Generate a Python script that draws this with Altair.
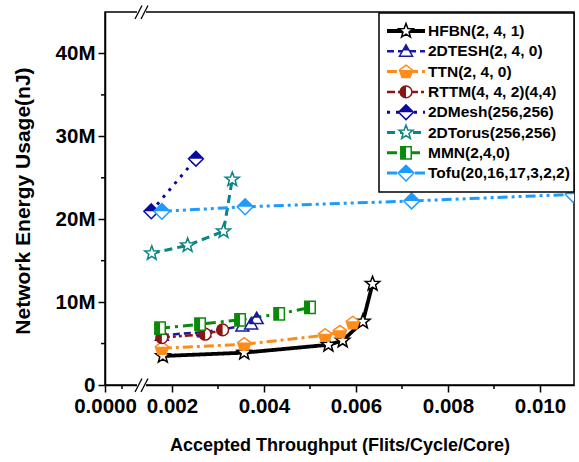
import math
import altair as alt
import pandas as pd

FONT = "Liberation Sans"

# ---- data ---------------------------------------------------------------
series = [
    "HFBN(2, 4, 1)", "2DTESH(2, 4, 0)", "TTN(2, 4, 0)", "RTTM(4, 4, 2)(4,4)",
    "2DMesh(256,256)", "2DTorus(256,256)", "MMN(2,4,0)", "Tofu(20,16,17,3,2,2)",
]

hfbn_x = [0.00180, 0.00357, 0.00540, 0.00571, 0.00615, 0.00636]
hfbn_y = [3.50, 3.90, 4.85, 5.36, 7.65, 12.2]

tesh_x = [0.00178, 0.00270, 0.00353, 0.00372, 0.00384]
tesh_y = [6.00, 6.40, 7.10, 7.35, 8.00]

ttn_x = [0.00178, 0.00357, 0.00533, 0.00565, 0.00593]
ttn_y = [4.43, 4.92, 6.00, 6.40, 7.50]

rttm_x = [0.00178, 0.00272, 0.00310]
rttm_y = [5.72, 6.13, 6.65]

mesh_x = [0.00155, 0.00252]
mesh_y = [20.95, 27.3]

torus_x = [0.00156, 0.00234, 0.00312, 0.00331]
torus_y = [15.9, 16.85, 18.55, 24.8]

mmn_x = [0.00174, 0.00261, 0.00348, 0.00433, 0.00500]
mmn_y = [6.85, 7.34, 7.86, 8.58, 9.35]

tofu_x = [0.00178, 0.00359, 0.00721, 0.01072]
tofu_y = [20.95, 21.5, 22.2, 23.0]

xs = [hfbn_x, tesh_x, ttn_x, rttm_x, mesh_x, torus_x, mmn_x, tofu_x]
ys = [hfbn_y, tesh_y, ttn_y, rttm_y, mesh_y, torus_y, mmn_y, tofu_y]

x_ticks = [0.002, 0.004, 0.006, 0.008, 0.010]
x_minor = [0.000913, 0.003, 0.005, 0.007, 0.009]
y_ticks = [0, 10, 20, 30, 40]
y_minor = [5, 15, 25, 35]

# ---- styles -------------------------------------------------------------
def star_path(inner=0.42):
    pts = []
    for k in range(10):
        r = 1.0 if k % 2 == 0 else inner
        a = -math.pi / 2 + k * math.pi / 5
        pts.append(f"{r * math.cos(a):.3f},{r * math.sin(a):.3f}")
    return "M" + "L".join(pts) + "Z"

STAR = star_path()
TRI = "M0,-1L1,0.75L-1,0.75Z"
TRI_TOP = "M0,-1L0.5,-0.125L-0.5,-0.125Z"
PENT = "M0,-1L1,-0.25L0.62,0.9L-0.62,0.9L-1,-0.25Z"
PENT_LOW = "M-1,-0.25L1,-0.25L0.62,0.9L-0.62,0.9Z"
CIRC = "M1,0A1,1,0,1,1,-1,0A1,1,0,1,1,1,0Z"
CIRC_LEFT = "M0,-1A1,1,0,0,0,0,1Z"
DIAM = "M0,-1L1,0L0,1L-1,0Z"
DIAM_TOP = "M0,-1L1,0L-1,0Z"
SQ = "M-0.85,-1L0.85,-1L0.85,1L-0.85,1Z"
SQ_LEFT = "M-0.85,-1L0,-1L0,1L-0.85,1Z"

colors = ["#000000", "#1a1aa0", "#ff8c1a", "#8b1515",
          "#0a0aa0", "#0a8585", "#0a8a0a", "#1e9bff"]
dashes = [[1, 0], [7, 4], [10, 4, 3, 4], [8, 3, 3, 3, 3, 3],
          [3, 6], [8, 5], [10, 5, 3, 5], [10, 4, 3, 4, 3, 4]]
widths = [3.8, 2.5, 3, 2.5, 3, 3, 3, 3]
full_shapes = [STAR, TRI, PENT, CIRC, DIAM, STAR, SQ, DIAM]
half_shapes = [None, TRI_TOP, PENT_LOW, CIRC_LEFT, DIAM_TOP, None, SQ_LEFT, DIAM_TOP]
sizes = [230, 170, 170, 140, 220, 220, 150, 250]

rows = []
for i, name in enumerate(series):
    for xv, yv in zip(xs[i], ys[i]):
        rows.append({"series": name, "x": xv, "y": yv, "sw": widths[i],
                     "full": full_shapes[i], "half": half_shapes[i], "size": sizes[i]})
df = pd.DataFrame(rows)

X_MIN, X_MAX = 0.000543, 0.01074
Y_MIN, Y_MAX = 0, 45
W, H = 469, 373

color_scale = alt.Scale(domain=series, range=colors)
dash_scale = alt.Scale(domain=series, range=dashes)

x_enc = alt.X(
    "x:Q",
    scale=alt.Scale(domain=[X_MIN, X_MAX], nice=False, zero=False),
    axis=alt.Axis(
        values=[X_MIN] + x_ticks,
        labelExpr="datum.value < 0.001 ? '0.0000' : format(datum.value, '.3f')",
        title="Accepted Throughput (Flits/Cycle/Core)",
        titleX=W / 2, titleY=65, titleBaseline="alphabetic", titleAlign="center",
        titleFontSize=18, labelPadding=4, labelFlush=False, labelOverlap=False,
    ),
)
y_enc = alt.Y(
    "y:Q",
    scale=alt.Scale(domain=[Y_MIN, Y_MAX], nice=False, zero=True),
    axis=alt.Axis(
        values=y_ticks,
        labelExpr="datum.value == 0 ? '0' : datum.value + 'M'",
        title="Network Energy Usage(nJ)",
        titleX=-76, titleY=H / 2 + 2, titleAngle=-90, titleBaseline="alphabetic",
        titleAlign="center", titleFontSize=21, labelPadding=3, labelFlush=False,
    ),
)

# one line per series, then each series' markers (outline + half fill) in order
series_layers = []
for i, name in enumerate(series):
    sub = df[df["series"] == name]
    series_layers.append(alt.Chart(sub).mark_line(clip=True, strokeCap="butt").encode(
        x=x_enc, y=y_enc,
        color=alt.Color("series:N", scale=color_scale, legend=None),
        strokeDash=alt.StrokeDash("series:N", scale=dash_scale, legend=None),
        strokeWidth=alt.StrokeWidth("sw:Q", scale=None),
        order="x:Q",
    ))
for i, name in enumerate(series):
    sub = df[df["series"] == name]
    c = alt.Chart(sub)
    series_layers.append(c.mark_point(clip=True, opacity=1, strokeWidth=1.5).encode(
        x=x_enc, y=y_enc,
        shape=alt.Shape("full:N", scale=None),
        size=alt.Size("size:Q", scale=None),
        fill=alt.value("white"),
        stroke=alt.Stroke("series:N", scale=color_scale, legend=None),
    ))
    if half_shapes[i] is not None:
        series_layers.append(c.mark_point(clip=True, filled=True, opacity=1, strokeWidth=0).encode(
            x=x_enc, y=y_enc,
            shape=alt.Shape("half:N", scale=None),
            size=alt.Size("size:Q", scale=None),
            color=alt.Color("series:N", scale=color_scale, legend=None),
        ))

# minor ticks
minor_x = alt.Chart(pd.DataFrame({"x": x_minor})).mark_rule(
    color="black", strokeWidth=1.5
).encode(x=x_enc, y=alt.value(H), y2=alt.value(H + 4))
minor_y = alt.Chart(pd.DataFrame({"y": y_minor})).mark_rule(
    color="black", strokeWidth=1.5
).encode(y=y_enc, x=alt.value(-4), x2=alt.value(0))

# axis break marks on top and bottom frame lines
def break_marks(y0):
    one = pd.DataFrame({"k": [0]})
    gap = alt.Chart(one).mark_rect(color="white").encode(
        x=alt.value(32), x2=alt.value(41), y=alt.value(y0 - 2), y2=alt.value(y0 + 2)
    )
    s1 = alt.Chart(one).mark_rule(color="black", strokeWidth=1.3).encode(
        x=alt.value(30), x2=alt.value(37), y=alt.value(y0 + 7), y2=alt.value(y0 - 6.5)
    )
    s2 = alt.Chart(one).mark_rule(color="black", strokeWidth=1.3).encode(
        x=alt.value(36), x2=alt.value(43), y=alt.value(y0 + 7), y2=alt.value(y0 - 6.5)
    )
    return [gap, s1, s2]

# legend box
leg = df.drop_duplicates("series").reset_index(drop=True)
leg["ly"] = [19 + 20.3 * i for i in range(len(leg))]
leg_half = leg[leg["half"].notna()]

leg_box = alt.Chart(pd.DataFrame({"k": [0]})).mark_rect(
    fill="white", stroke="black", strokeWidth=1.5
).encode(x=alt.value(274), x2=alt.value(W), y=alt.value(1), y2=alt.value(180))

ly_enc = alt.Y("ly:Q", scale=None, axis=None)

leg_lines = alt.Chart(leg).mark_rule(strokeCap="butt").encode(
    y=ly_enc, x=alt.value(282), x2=alt.value(320),
    color=alt.Color("series:N", scale=color_scale, legend=None),
    strokeDash=alt.StrokeDash("series:N", scale=dash_scale, legend=None),
    strokeWidth=alt.StrokeWidth("sw:Q", scale=None),
)
leg_outline = alt.Chart(leg).mark_point(opacity=1, strokeWidth=1.5).encode(
    y=ly_enc, x=alt.value(301),
    shape=alt.Shape("full:N", scale=None),
    size=alt.Size("size:Q", scale=None),
    fill=alt.value("white"),
    stroke=alt.Stroke("series:N", scale=color_scale, legend=None),
)
leg_fill = alt.Chart(leg_half).mark_point(filled=True, opacity=1, strokeWidth=0).encode(
    y=ly_enc, x=alt.value(301),
    shape=alt.Shape("half:N", scale=None),
    size=alt.Size("size:Q", scale=None),
    color=alt.Color("series:N", scale=color_scale, legend=None),
)
leg_text = alt.Chart(leg).mark_text(
    align="left", baseline="middle", font=FONT, fontWeight="bold", fontSize=15.5, color="black"
).encode(y=ly_enc, x=alt.value(323), text="series:N")

chart = alt.layer(
    minor_x, minor_y, *series_layers,
    *break_marks(0), *break_marks(H),
    leg_box, leg_lines, leg_outline, leg_fill, leg_text,
).properties(
    width=W, height=H,
    autosize=alt.AutoSizeParams(type="none"),
    padding={"left": 105, "top": 12, "right": 5, "bottom": 77},
    background="white",
).configure_view(
    stroke="black", strokeWidth=1.5
).configure_axis(
    labelFont=FONT, labelFontWeight="bold", labelFontSize=20.5, labelColor="black",
    titleFont=FONT, titleFontWeight="bold", titleColor="black",
    domainColor="black", domainWidth=1.5, tickColor="black", tickWidth=1.5,
    tickSize=7, grid=False,
)

chart.save("out.html", embed_options={"renderer": "svg", "actions": False})
